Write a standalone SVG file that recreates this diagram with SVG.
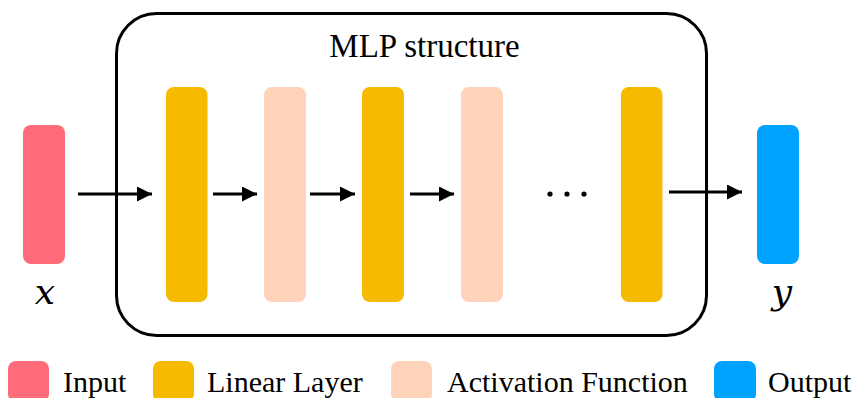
<svg xmlns="http://www.w3.org/2000/svg" width="855" height="398" viewBox="0 0 855 398">
<style>
.in{fill:#FF6B78}.lin{fill:#F6BA00}.act{fill:#FFD3BA}.out{fill:#00A2FF}
.c{stroke:#000;stroke-width:3;fill:none;marker-end:url(#ah)}
</style>
<defs>
<marker id="ah" markerWidth="16" markerHeight="16" refX="15" refY="7.5" orient="auto" markerUnits="userSpaceOnUse">
<path d="M0,0 L15,7.5 L0,15 Z" fill="#000"/>
</marker>
</defs>
<rect width="855" height="398" fill="#fff"/>
<g id="mlp-box">
<rect x="116.5" y="13.5" width="590" height="322" rx="40" fill="none" stroke="#000" stroke-width="3"/>
<text font-family="Liberation Serif, Tinos, Times New Roman, DejaVu Serif, serif" x="424.5" y="57" font-size="33" text-anchor="middle">MLP structure</text>
</g>
<g id="input"><rect class="in" x="23" y="125" width="42" height="139" rx="8"/><text font-family="DejaVu Serif, Liberation Serif, serif" font-style="italic" x="45" y="304" font-size="36" text-anchor="middle">x</text></g>
<g id="linear1"><rect class="lin" x="166" y="87" width="41.5" height="215" rx="8"/></g>
<g id="act1"><rect class="act" x="264" y="87" width="42" height="215" rx="8"/></g>
<g id="linear2"><rect class="lin" x="362" y="87" width="42" height="215" rx="8"/></g>
<g id="act2"><rect class="act" x="461" y="87" width="42" height="215" rx="8"/></g>
<g id="ellipsis"><circle cx="550" cy="194" r="2.6"/><circle cx="567" cy="194" r="2.6"/><circle cx="584" cy="194" r="2.6"/></g>
<g id="linear3"><rect class="lin" x="621" y="87" width="41.5" height="215" rx="8"/></g>
<g id="output"><rect class="out" x="757" y="125" width="42" height="139" rx="8"/><text font-family="DejaVu Serif, Liberation Serif, serif" font-style="italic" x="782" y="304" font-size="36" text-anchor="middle">y</text></g>
<g id="connectors">
<line class="c" x1="78" y1="194" x2="152" y2="194"/>
<line class="c" x1="213" y1="194" x2="257" y2="194"/>
<line class="c" x1="310" y1="194" x2="355" y2="194"/>
<line class="c" x1="410" y1="194" x2="454" y2="194"/>
<line class="c" x1="669" y1="192" x2="742" y2="192"/>
</g>
<g id="legend" font-family="Liberation Serif, Tinos, Times New Roman, DejaVu Serif, serif" font-size="30">
<rect class="in" x="8" y="361" width="41" height="41" rx="8"/>
<text x="63" y="392">Input</text>
<rect class="lin" x="153" y="361" width="41" height="41" rx="8"/>
<text x="207" y="392">Linear Layer</text>
<rect class="act" x="391" y="361" width="41" height="41" rx="8"/>
<text x="447" y="392">Activation Function</text>
<rect class="out" x="714" y="361" width="42" height="41" rx="8"/>
<text x="768" y="392">Output</text>
</g>
</svg>
